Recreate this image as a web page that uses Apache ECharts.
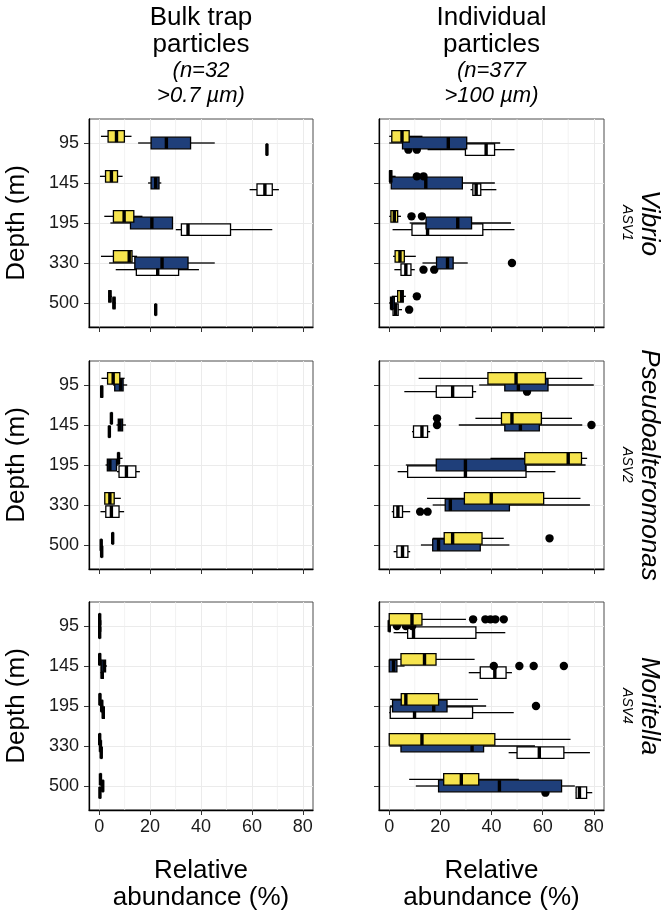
<!DOCTYPE html>
<html><head><meta charset="utf-8">
<script src="https://cdn.jsdelivr.net/npm/echarts@6/dist/echarts.min.js"></script>
<style>html,body{margin:0;padding:0;background:#fff}#c{width:671px;height:916px}</style>
</head><body><div id="c"></div>
<script>
// ---------- categories / labels ----------
const depths = ['95', '145', '195', '330', '500'];
const xTicks = [0, 20, 40, 60, 80];
const xMinorTicks = [10, 30, 50, 70];
const columnTitles = [['Bulk trap', 'particles', '(n=32', '>0.7 µm)'], ['Individual', 'particles', '(n=377', '>100 µm)']];
const taxa = ['Vibrio', 'Pseudoalteromonas', 'Moritella'];
const asvs = ['ASV1', 'ASV2', 'ASV4'];
const yTitle = 'Depth (m)';
const xTitle = ['Relative', 'abundance (%)'];

// ---------- five-number summaries [min, q1, median, q3, max] per depth ----------
// Vibrio, bulk trap
const vibrioBulkYellow = [[0.7,3.5,6.8,9.9,12.7],[0.3,2.5,4.8,7.2,9.2],[2,5.6,9.8,13.6,17],[0.7,5.6,11.8,12.9,14.9],[3.5,3.8,4.2,4.6,5]];
const vibrioBulkBlue   = [[15.3,20.4,26.4,35.9,45.4],[19.2,20.4,22.2,23.5,24.4],[4.4,12.3,20.7,28.8,28.8],[3.9,14,24.7,34.9,45.4],[5.2,5.5,5.8,6.2,6.5]];
const vibrioBulkWhite  = [[65.6,65.8,65.9,66,66.2],[59.1,62,65.1,68,70.6],[30.1,32.3,34.9,51.6,68],[6.5,14.6,23,31.2,39.2],[22,22.1,22.2,22.3,22.4]];
// Vibrio, individual
const vibrioIndYellow = [[0,1,5,7.8,13],[0,0.2,0.5,1,2.5],[0,0.65,2,3.3,4.6],[1.5,2.3,4.2,5.9,10.4],[1,3.3,4.8,5.5,6.5]];
const vibrioIndBlue   = [[0,5.2,23.1,30.3,43.4],[0,0.8,14.3,28.6,41.3],[8,14.4,26.8,32.2,47.6],[13,18.5,22.8,25,30.7],[0,0.5,1,2,3]];
const vibrioIndWhite  = [[15,29.8,37.9,41.2,49],[31.8,32.7,34,35.8,41.9],[1.3,8.9,15,36.6,49],[2,4.6,6.5,8.5,10],[0.5,1.5,2.5,3.5,5]];
const vibrioIndYellowOut = [[],[10.8,13.4],[8.7,12.8],[],[10.8]];
const vibrioIndBlueOut   = [[],[],[],[48],[]];
const vibrioIndWhiteOut  = [[7.5,10.8],[],[],[13.4,17.6],[7.8]];
// Pseudoalteromonas, bulk trap
const pseudoBulkYellow = [[0.9,3.3,5.5,8.1,10],[4.5,4.7,4.8,5,5.2],[7.2,7.4,7.6,7.8,9.2],[2.2,2.2,4.2,5.9,8.5],[5,5.2,5.3,5.5,5.7]];
const pseudoBulkBlue   = [[5.5,6.1,8.4,9.4,11],[6.8,7.5,8.2,9.2,10.5],[2.5,3.2,4.2,6.8,7.5],null,[0.6,0.7,0.8,0.9,1]];
const pseudoBulkWhite  = [[0.5,0.7,1,1.3,1.5],[3.7,3.8,4,4.2,4.4],[7,7.8,10.7,14.4,16],[0.5,2.6,4.8,7.8,9.8],[0.8,0.9,1,1.1,1.2]];
// Pseudoalteromonas, individual
const pseudoIndYellow = [[11.5,38.6,49.6,61.1,75.5],[33.7,43.9,48,59.5,71.5],[39.6,53,70,75.2,77.4],[14.8,29.4,39.9,60.4,74.8],[17,21.5,24.8,36.3,44.8]];
const pseudoIndBlue   = [[35.2,45.2,50.5,62.1,80],[27.2,45.2,51.3,58.7,75.5],[6.5,18.4,29.8,53.3,76.8],[17,21.9,23.9,47,78.5],[12.4,17,19.3,35.6,47]];
const pseudoIndWhite  = [[5.9,18.4,24.8,32.6,34],[8.9,9.5,12.8,15,16],[3.3,7.2,29.8,53.5,65],[1,1.7,3.4,5.2,8.2],[1.7,3,5.2,7.3,8.2]];
const pseudoIndYellowOut = [[],[18.7],[],[],[62.7]];
const pseudoIndBlueOut   = [[],[18.7,79.1],[],[],[]];
const pseudoIndWhiteOut  = [[53.9],[],[],[12.1,15],[]];
// Moritella, bulk trap
const moritellaBulkYellow = [[0,0.1,0.2,0.3,0.4],[0,0,0.2,0.5,0.8],[0,0.1,0.3,0.5,0.7],[0,0.1,0.2,0.4,0.5],[0.3,0.4,0.5,0.7,0.8]];
const moritellaBulkBlue   = [[0,0.1,0.2,0.3,0.4],[0.5,1,2,2.5,3],[0.5,0.8,1,1.3,1.6],[0.3,0.4,0.5,0.6,0.8],[1,1.2,1.4,1.6,1.8]];
const moritellaBulkWhite  = [[0,0.1,0.2,0.3,0.4],[0.5,0.8,1.2,1.6,1.8],[1,1.3,1.6,2,2.2],[0.5,0.7,0.8,1,1.2],[0.2,0.3,0.3,0.4,0.5]];
// Moritella, individual
const moritellaIndYellow = [[0,0,8.9,12.8,30],[0,4.6,13.8,18.3,33.4],[0.4,4.7,6.5,19.3,34.7],[0,0,12.8,41.3,70.9],[7.8,21.3,28.2,35,50.7]];
const moritellaIndBlue   = [[0,0,0,0.3,0.5],[0,0,1.7,3,6],[0.3,1.3,17.4,22.6,37.9],[0,4.6,32.4,36.9,57],[10.4,19.3,43.1,67.4,72.6]];
const moritellaIndWhite  = [[1.7,7.2,9.5,33.9,45.4],[31.1,35.6,41.3,45.7,48],[0,0.4,9.9,32.6,48.7],[46.7,50,58.7,68.3,78.5],[73,73.1,74.4,77.2,79.4]];
const moritellaIndYellowOut = [[32.8,37.6,39.6,41.5,44.8],[],[],[],[]];
const moritellaIndBlueOut   = [[3,6.5,9],[40.9,50.9,56.5,68.3],[57.4],[],[]];
const moritellaIndWhiteOut  = [[],[],[],[],[61.1]];

const none5 = [[],[],[],[],[]];
// ---------- styling ----------
const FONT = '"Liberation Sans", Arial, sans-serif';
const fills = { white: '#FFFFFF', blue: '#1F3F7A', yellow: '#F6E44E' };
const slot = { yellow: -1, blue: 0, white: 1 };   // dodge position
const zOrder = { white: 3, blue: 4, yellow: 5 };  // draw order

const panels = [
  { row: 0, col: 0, yellow: [vibrioBulkYellow, none5], blue: [vibrioBulkBlue, none5], white: [vibrioBulkWhite, none5] },
  { row: 0, col: 1, yellow: [vibrioIndYellow, vibrioIndYellowOut], blue: [vibrioIndBlue, vibrioIndBlueOut], white: [vibrioIndWhite, vibrioIndWhiteOut] },
  { row: 1, col: 0, yellow: [pseudoBulkYellow, none5], blue: [pseudoBulkBlue, none5], white: [pseudoBulkWhite, none5] },
  { row: 1, col: 1, yellow: [pseudoIndYellow, pseudoIndYellowOut], blue: [pseudoIndBlue, pseudoIndBlueOut], white: [pseudoIndWhite, pseudoIndWhiteOut] },
  { row: 2, col: 0, yellow: [moritellaBulkYellow, none5], blue: [moritellaBulkBlue, none5], white: [moritellaBulkWhite, none5] },
  { row: 2, col: 1, yellow: [moritellaIndYellow, moritellaIndYellowOut], blue: [moritellaIndBlue, moritellaIndBlueOut], white: [moritellaIndWhite, moritellaIndWhiteOut] }
];

const gridLeft = [89, 379], gridWidth = [224, 225];
const gridTop = [119, 361, 602], gridHeight = 208;

const grids = [], xAxes = [], yAxes = [], series = [];
panels.forEach((p, i) => {
  grids.push({ left: gridLeft[p.col], top: gridTop[p.row], width: gridWidth[p.col], height: gridHeight,
    show: true, borderColor: '#4d4d4d', borderWidth: 1, backgroundColor: '#fff' });
  xAxes.push({ gridIndex: i, type: 'value', min: -4, max: 84,
    axisLine: { show: true, onZero: false, lineStyle: { color: '#000', width: 1.3 } },
    axisTick: { show: true, length: 5, customValues: xTicks, lineStyle: { color: '#333', width: 1 } },
    axisLabel: { show: p.row === 2, customValues: xTicks, fontSize: 18, color: '#1a1a1a', fontFamily: FONT, margin: 8,
      formatter: v => xTicks.indexOf(v) >= 0 ? String(v) : '' },
    splitLine: { show: true, lineStyle: { color: '#EBEBEB', width: 1 } } });
  yAxes.push({ gridIndex: i, type: 'value', min: 0.4, max: 5.6, inverse: true,
    axisLine: { show: true, onZero: false, lineStyle: { color: '#000', width: 1.3 } },
    axisTick: { show: true, length: 5, customValues: [1, 2, 3, 4, 5], lineStyle: { color: '#333', width: 1 } },
    axisLabel: { show: p.col === 0, customValues: [1, 2, 3, 4, 5], fontSize: 18, color: '#1a1a1a', fontFamily: FONT, margin: 10,
      formatter: v => (Math.abs(v - Math.round(v)) < 1e-6 && depths[Math.round(v) - 1]) || '' },
    splitLine: { show: true, lineStyle: { color: '#EBEBEB', width: 1 } } });
  // minor vertical grid lines
  series.push({ type: 'custom', xAxisIndex: i, yAxisIndex: i, z: 1, silent: true,
    data: xMinorTicks.map(v => [v, 3]), encode: { x: 0, y: 1 },
    renderItem: (params, api) => {
      const a = api.coord([api.value(0), 0.4]), b = api.coord([api.value(0), 5.6]);
      return { type: 'line', shape: { x1: a[0], y1: a[1], x2: b[0], y2: b[1] }, style: { stroke: '#EDEDED', lineWidth: 0.7 } };
    } });
  ['white', 'blue', 'yellow'].forEach(g => {
    const stats = p[g][0], outs = p[g][1];
    const rows = [], rowOuts = [];
    stats.forEach((s, d) => { if (s) { rows.push([d + 1].concat(s)); rowOuts.push(outs[d] || []); } });
    series.push({ type: 'custom', name: g, xAxisIndex: i, yAxisIndex: i, z: zOrder[g], silent: true,
      data: rows, encode: { x: [1, 2, 3, 4, 5], y: 0 },
      renderItem: (params, api) => {
        const cat = api.value(0);
        const unit = api.size([0, 1])[1];
        const yc = api.coord([0, cat])[1] + slot[g] * unit / 6;
        const h = unit * 0.29;
        const X = v => api.coord([v, cat])[0];
        const mn = X(api.value(1)), q1 = X(api.value(2)), md = X(api.value(3)), q3 = X(api.value(4)), mx = X(api.value(5));
        const children = [];
        rowOuts[params.dataIndex].forEach(o => children.push({ type: 'circle', shape: { cx: X(o), cy: yc, r: unit * 0.105 }, style: { fill: '#000' } }));
        children.push({ type: 'line', shape: { x1: mn, y1: yc, x2: q1, y2: yc }, style: { stroke: '#000', lineWidth: 1.3 } });
        children.push({ type: 'line', shape: { x1: q3, y1: yc, x2: mx, y2: yc }, style: { stroke: '#000', lineWidth: 1.3 } });
        children.push({ type: 'rect', shape: { x: q1, y: yc - h / 2, width: Math.max(q3 - q1, 0.01), height: h },
          style: { fill: fills[g], stroke: '#000', lineWidth: 1.3 } });
        children.push({ type: 'line', shape: { x1: md, y1: yc - h / 2, x2: md, y2: yc + h / 2 }, style: { stroke: '#000', lineWidth: 3.4 } });
        return { type: 'group', children };
      } });
  });
});

// ---------- text ----------
const graphics = [];
const colCenter = [gridLeft[0] + gridWidth[0] / 2, gridLeft[1] + gridWidth[1] / 2];
const headY = [18, 45, 71, 96];
columnTitles.forEach((lines, c) => lines.forEach((t, k) => {
  graphics.push({ type: 'text', x: colCenter[c], y: headY[k], silent: true,
    style: { text: t, fill: '#000', font: (k >= 2 ? 'italic ' : '') + (k >= 2 ? 22 : 26) + 'px ' + FONT, textAlign: 'center', textVerticalAlign: 'middle' } });
}));
xTitle.forEach((t, k) => [0, 1].forEach(c => graphics.push({ type: 'text', x: colCenter[c], y: [871, 898][k], silent: true,
  style: { text: t, fill: '#000', font: '26px ' + FONT, textAlign: 'center', textVerticalAlign: 'middle' } })));
gridTop.forEach((top, r) => {
  const cy = top + gridHeight / 2;
  graphics.push({ type: 'text', x: 17, y: cy, rotation: Math.PI / 2, silent: true,
    style: { text: yTitle, fill: '#000', font: '26px ' + FONT, textAlign: 'center', textVerticalAlign: 'middle' } });
  graphics.push({ type: 'text', x: 649, y: cy, rotation: -Math.PI / 2, silent: true,
    style: { text: taxa[r], fill: '#000', font: 'italic 26px ' + FONT, textAlign: 'center', textVerticalAlign: 'middle' } });
  graphics.push({ type: 'text', x: 627, y: cy, rotation: -Math.PI / 2, silent: true,
    style: { text: asvs[r], fill: '#000', font: 'italic 14px ' + FONT, textAlign: 'center', textVerticalAlign: 'middle' } });
});

const chart = echarts.init(document.getElementById('c'), null, { renderer: 'canvas' });
chart.setOption({ animation: false, backgroundColor: '#fff', grid: grids, xAxis: xAxes, yAxis: yAxes, series, graphic: graphics });
</script></body></html>
